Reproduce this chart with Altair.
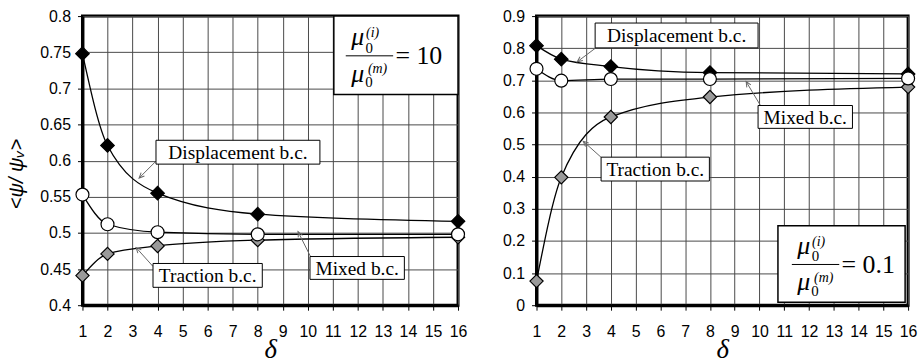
import math
import altair as alt
import pandas as pd

delta = [1, 2, 4, 8, 16]

# mu0(i) / mu0(m) = 10
disp_hi = [0.748, 0.621, 0.555, 0.526, 0.516]
trac_hi = [0.441, 0.471, 0.482, 0.490, 0.494]
mixed_hi = [0.553, 0.512, 0.501, 0.498, 0.498]

# mu0(i) / mu0(m) = 0.1
disp_lo = [0.808, 0.766, 0.743, 0.724, 0.720]
trac_lo = [0.075, 0.398, 0.586, 0.648, 0.679]
mixed_lo = [0.736, 0.699, 0.704, 0.704, 0.706]

series_names = ["Displacement b.c.", "Traction b.c.", "Mixed b.c."]
x_ticks = list(range(1, 17))
y_ticks_hi = [0.4, 0.45, 0.5, 0.55, 0.6, 0.65, 0.7, 0.75, 0.8]
y_ticks_lo = [0, 0.1, 0.2, 0.3, 0.4, 0.5, 0.6, 0.7, 0.8, 0.9]

SERIF = "Liberation Serif"
SANS = "Liberation Sans"
W_L, W_R, H = 378, 374, 291
X_DOM = [1, 16]


def series_table(disp, trac, mixed):
    rows = []
    for name, vals in zip(series_names, (disp, trac, mixed)):
        for d, v in zip(delta, vals):
            rows.append({"delta": d, "value": v, "series": name})
    return pd.DataFrame(rows)


def panel(data, ydom, yticks, width, ytitle, boxes, arrows, ratio_box, anchor, ratio_value):
    # annotation placement is given in pixels from the plot's top-left corner
    def to_xy(px, py):
        return (X_DOM[0] + px / width * (X_DOM[1] - X_DOM[0]),
                ydom[1] - py / H * (ydom[1] - ydom[0]))

    xs = alt.Scale(domain=X_DOM, nice=False, zero=False)
    ys = alt.Scale(domain=ydom, nice=False, zero=False)

    x_axis = alt.Axis(values=x_ticks, title="δ", titleFont=SERIF, titleFontStyle="italic",
                      titleFontSize=27, titlePadding=-2, labelPadding=13)
    if ytitle:
        y_axis = alt.Axis(values=yticks, format="~g", title=ytitle, titleFont=SANS,
                          titleFontStyle="italic", titleFontSize=20, titlePadding=13,
                          titleY=H / 2 + 13)
    else:
        y_axis = alt.Axis(values=yticks, format="~g", title=None)

    def X(field):
        return alt.X(field, scale=xs, axis=x_axis)

    def Y(field):
        return alt.Y(field, scale=ys, axis=y_axis)

    base = alt.Chart(data).encode(x=X("delta:Q"), y=Y("value:Q"))
    lines = base.mark_line(interpolate="monotone", color="black", strokeWidth=1.3).encode(
        detail="series:N"
    )
    points = base.mark_point(filled=True, opacity=1, stroke="black", strokeWidth=1.2).encode(
        shape=alt.Shape("series:N", scale=alt.Scale(domain=series_names,
                        range=["diamond", "diamond", "circle"]), legend=None),
        fill=alt.Fill("series:N", scale=alt.Scale(domain=series_names,
                      range=["black", "#9a9a9a", "white"]), legend=None),
        size=alt.Size("series:N", scale=alt.Scale(domain=series_names,
                      range=[185, 170, 185]), legend=None),
    )

    # label boxes
    box_rows = []
    for label, (l, t, r, b) in boxes:
        x1, y1 = to_xy(l, t)
        x2, y2 = to_xy(r, b)
        tx, ty = to_xy((l + r) / 2, (t + b) / 2 + 1)
        box_rows.append({"x": x1, "x2": x2, "y": y1, "y2": y2, "tx": tx, "ty": ty, "label": label})
    box_df = pd.DataFrame(box_rows)
    rects = alt.Chart(box_df).mark_rect(fill="white", stroke="black", strokeWidth=1).encode(
        x=X("x:Q"), x2="x2:Q", y=Y("y:Q"), y2="y2:Q",
    )
    texts = alt.Chart(box_df).mark_text(font=SERIF, fontSize=19.5, color="black",
                                        align="center", baseline="middle").encode(
        x=X("tx:Q"), y=Y("ty:Q"), text="label:N",
    )

    # leader arrows from the boxes to the curves
    arrow_rows = []
    for (sx, sy), (ex, ey) in arrows:
        x1, y1 = to_xy(sx, sy)
        x2, y2 = to_xy(ex, ey)
        ang = math.degrees(math.atan2(ex - sx, -(ey - sy))) % 360
        arrow_rows.append({"x": x1, "y": y1, "x2": x2, "y2": y2, "angle": ang})
    arrow_df = pd.DataFrame(arrow_rows)
    leaders = alt.Chart(arrow_df).mark_rule(color="#666666", strokeWidth=1).encode(
        x=X("x:Q"), x2="x2:Q", y=Y("y:Q"), y2="y2:Q",
    )
    heads = alt.Chart(arrow_df).mark_point(
        shape="M-0.45,1L0,0L0.45,1", filled=False, stroke="#666666",
        strokeWidth=1, size=110, opacity=1,
    ).encode(
        x=X("x2:Q"), y=Y("y2:Q"), angle=alt.Angle("angle:Q", scale=None),
    )

    # ratio box with the fraction mu0(i)/mu0(m)
    l, t, r, b = ratio_box
    rx1, ry1 = to_xy(l, t)
    rx2, ry2 = to_xy(r, b)
    rbox = alt.Chart(pd.DataFrame([{"x": rx1, "x2": rx2, "y": ry1, "y2": ry2}])).mark_rect(
        fill="white", stroke="black", strokeWidth=1.5
    ).encode(x=X("x:Q"), x2="x2:Q", y=Y("y:Q"), y2="y2:Q")

    ax, ay = anchor

    def piece_df(items):
        rows = []
        for txt, dx, dy in items:
            x, y = to_xy(ax + dx, ay + dy)
            rows.append({"x": x, "y": y, "t": txt})
        return pd.DataFrame(rows)

    def text_layer(items, **kw):
        return alt.Chart(piece_df(items)).mark_text(font=SERIF, color="black",
                                                     baseline="alphabetic", **kw).encode(
            x=X("x:Q"), y=Y("y:Q"), text="t:N",
        )

    mus = text_layer([("μ", 12, -10.5), ("μ", 12, 26)], fontSize=26,
                     fontStyle="italic", align="center")
    subs = text_layer([("0", 23.7, -3.3), ("0", 23.3, 31.7)], fontSize=15, align="center")
    sups = text_layer([("(i)", 27, -18.5), ("(m)", 32, 17.5)], fontSize=14,
                      fontStyle="italic", align="center")
    eq = text_layer([("= " + ratio_value, 50, 8.5)], fontSize=26, align="left")

    fx1, fy = to_xy(ax, ay)
    fx2, _ = to_xy(ax + 47.7, ay)
    frac_line = alt.Chart(pd.DataFrame([{"x": fx1, "x2": fx2, "y": fy}])).mark_rule(
        color="black", strokeWidth=1
    ).encode(x=X("x:Q"), x2="x2:Q", y=Y("y:Q"))

    return alt.layer(
        lines, points, leaders, heads, rects, texts, rbox, frac_line, mus, subs, sups, eq
    ).properties(width=width, height=H)


left = panel(
    series_table(disp_hi, trac_hi, mixed_hi), [0.4, 0.8], y_ticks_hi, W_L, "<ψ/ ψᵥ>",
    boxes=[("Displacement b.c.", (74, 125, 239, 149)),
           ("Traction b.c.", (71, 249, 181, 273)),
           ("Mixed b.c.", (229, 242, 324, 265))],
    arrows=[((74, 146), (57, 163)),
            ((71, 252), (54, 233)),
            ((230, 243), (217, 217))],
    ratio_box=(253, 0, 378, 79),
    anchor=(265, 40),
    ratio_value="10",
)

right = panel(
    series_table(disp_lo, trac_lo, mixed_lo), [0, 0.9], y_ticks_lo, W_R, None,
    boxes=[("Displacement b.c.", (59, 7, 223, 32)),
           ("Mixed b.c.", (223, 90, 318, 113)),
           ("Traction b.c.", (65, 142, 174, 166))],
    arrows=[((61, 31), (41, 46)),
            ((226, 91), (211, 66)),
            ((66, 143), (47, 126))],
    ratio_box=(243, 211, 371, 288),
    anchor=(257, 250),
    ratio_value="0.1",
)

chart = alt.hconcat(left, right, spacing=32).properties(
    padding={"left": 5, "top": 5, "right": 4, "bottom": 0}
).configure_view(
    stroke="black", strokeWidth=3
).configure_axis(
    grid=True, gridColor="#4a4a4a", gridWidth=1, gridOpacity=1,
    domainColor="black", domainWidth=3,
    tickColor="black", tickSize=5, tickWidth=1,
    labelFont=SANS, labelFontSize=16, labelColor="black",
    labelFlush=False, labelOverlap=False, labelPadding=7,
    titleFontWeight="normal", titleColor="black",
)

chart.save("out.html", embed_options={"renderer": "svg", "actions": False})
